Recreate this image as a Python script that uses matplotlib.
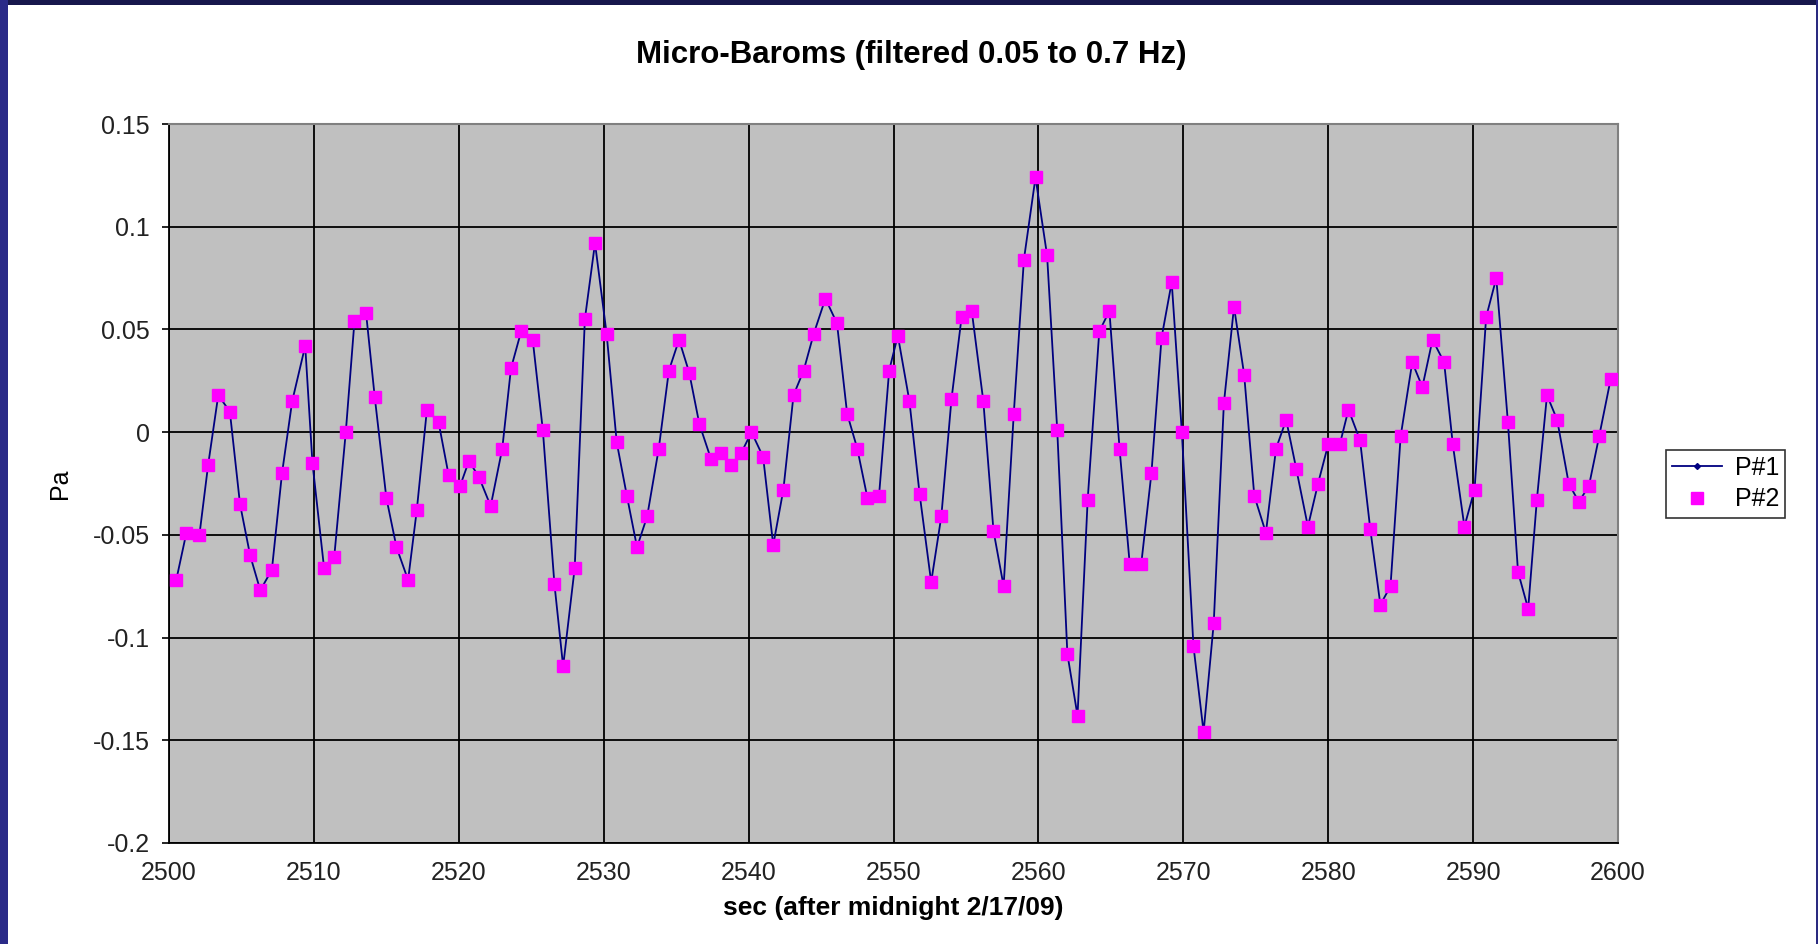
import numpy as np
import matplotlib
matplotlib.use('Agg')
import matplotlib.pyplot as plt
from matplotlib.patches import Rectangle

plt.rcParams['font.family'] = ['Liberation Sans', 'DejaVu Sans']

# --- Data: filtered pressure samples (seconds after midnight, Pa) ---
t = [2500.5, 2501.2, 2502.1, 2502.7, 2503.4, 2504.2, 2504.9, 2505.6, 2506.3, 2507.1,
     2507.8, 2508.5, 2509.4, 2509.9, 2510.7, 2511.4, 2512.2, 2512.8, 2513.6, 2514.2,
     2515.0, 2515.7, 2516.5, 2517.1, 2517.8, 2518.6, 2519.3, 2520.1, 2520.7, 2521.4,
     2522.2, 2523.0, 2523.6, 2524.3, 2525.1, 2525.8, 2526.6, 2527.2, 2528.0, 2528.7,
     2529.4, 2530.2, 2530.9, 2531.6, 2532.3, 2533.0, 2533.8, 2534.5, 2535.2, 2535.9,
     2536.6, 2537.4, 2538.1, 2538.8, 2539.5, 2540.2, 2541.0, 2541.7, 2542.4, 2543.1,
     2543.8, 2544.5, 2545.3, 2546.1, 2546.8, 2547.5, 2548.2, 2549.0, 2549.7, 2550.3,
     2551.1, 2551.8, 2552.6, 2553.3, 2554.0, 2554.7, 2555.4, 2556.2, 2556.9, 2557.6,
     2558.3, 2559.0, 2559.8, 2560.6, 2561.3, 2562.0, 2562.7, 2563.4, 2564.2, 2564.9,
     2565.6, 2566.3, 2567.1, 2567.8, 2568.5, 2569.2, 2569.9, 2570.7, 2571.4, 2572.1,
     2572.8, 2573.5, 2574.2, 2574.9, 2575.7, 2576.4, 2577.1, 2577.8, 2578.6, 2579.3,
     2580.0, 2580.8, 2581.4, 2582.2, 2582.9, 2583.6, 2584.3, 2585.0, 2585.8, 2586.5,
     2587.2, 2588.0, 2588.6, 2589.4, 2590.1, 2590.9, 2591.6, 2592.4, 2593.1, 2593.8,
     2594.4, 2595.1, 2595.8, 2596.6, 2597.3, 2598.0, 2598.7, 2599.5]

pa = [-0.072, -0.049, -0.050, -0.016, 0.018, 0.010, -0.035, -0.060, -0.077, -0.067,
      -0.020, 0.015, 0.042, -0.015, -0.066, -0.061, 0.000, 0.054, 0.058, 0.017,
      -0.032, -0.056, -0.072, -0.038, 0.011, 0.005, -0.021, -0.026, -0.014, -0.022,
      -0.036, -0.008, 0.031, 0.049, 0.045, 0.001, -0.074, -0.114, -0.066, 0.055,
      0.092, 0.048, -0.005, -0.031, -0.056, -0.041, -0.008, 0.030, 0.045, 0.029,
      0.004, -0.013, -0.010, -0.016, -0.010, 0.000, -0.012, -0.055, -0.028, 0.018,
      0.030, 0.048, 0.065, 0.053, 0.009, -0.008, -0.032, -0.031, 0.030, 0.047,
      0.015, -0.030, -0.073, -0.041, 0.016, 0.056, 0.059, 0.015, -0.048, -0.075,
      0.009, 0.084, 0.124, 0.086, 0.001, -0.108, -0.138, -0.033, 0.049, 0.059,
      -0.008, -0.064, -0.064, -0.020, 0.046, 0.073, 0.000, -0.104, -0.146, -0.093,
      0.014, 0.061, 0.028, -0.031, -0.049, -0.008, 0.006, -0.018, -0.046, -0.025,
      -0.006, -0.006, 0.011, -0.004, -0.047, -0.084, -0.075, -0.002, 0.034, 0.022,
      0.045, 0.034, -0.006, -0.046, -0.028, 0.056, 0.075, 0.005, -0.068, -0.086,
      -0.033, 0.018, 0.006, -0.025, -0.034, -0.026, -0.002, 0.026]

x_ticks = [2500, 2510, 2520, 2530, 2540, 2550, 2560, 2570, 2580, 2590, 2600]
y_ticks = [0.15, 0.1, 0.05, 0, -0.05, -0.1, -0.15, -0.2]
y_tick_labels = ['0.15', '0.1', '0.05', '0', '-0.05', '-0.1', '-0.15', '-0.2']

# --- Figure: dark slide background with a white chart panel ---
W, H = 1818, 944
fig = plt.figure(figsize=(W / 100, H / 100), dpi=100)
fig.patch.set_facecolor('#17174c')
# brighter blue edges on the left and right
fig.add_artist(Rectangle((0, 0), 8 / W, 1, transform=fig.transFigure,
                         facecolor='#2a2a88', edgecolor='none', zorder=-11))
fig.add_artist(Rectangle((1816 / W, 0), 2 / W, 1, transform=fig.transFigure,
                         facecolor='#2a2a80', edgecolor='none', zorder=-11))
fig.add_artist(Rectangle((8 / W, 0), (1816 - 8) / W, (H - 5) / H,
                         transform=fig.transFigure, facecolor='white',
                         edgecolor='none', zorder=-10))

ax = fig.add_axes([169 / W, 1 - 843 / H, (1618 - 169) / W, (843 - 124) / H])
ax.set_facecolor('#c0c0c0')

# P#1 line with small diamonds, P#2 squares on top
ax.plot(t, pa, color='#000080', lw=1.3, marker='D', markersize=3,
        label='P#1', zorder=3)
ax.plot(t, pa, color='#ff00ff', lw=0, marker='s', markersize=8.5,
        label='P#2', zorder=4)

ax.set_xlim(2500, 2600)
ax.set_ylim(-0.2, 0.15)
ax.set_xticks(x_ticks)
ax.set_yticks(y_ticks)
ax.set_yticklabels(y_tick_labels)
ax.grid(True, color='black', lw=1.3)
ax.set_axisbelow(True)

for side in ['top', 'right']:
    ax.spines[side].set_color('#808080')
    ax.spines[side].set_linewidth(1.5)
for side in ['left', 'bottom']:
    ax.spines[side].set_color('black')
    ax.spines[side].set_linewidth(1.3)

ax.tick_params(axis='y', direction='out', length=5, width=1.2, pad=9,
               labelsize=18, colors='black')
ax.tick_params(axis='x', length=0, pad=13, labelsize=18)
for lab in ax.get_xticklabels() + ax.get_yticklabels():
    lab.set_color('#222222')

ax.set_title('Micro-Baroms (filtered 0.05 to 0.7 Hz)', fontsize=22.5,
             fontweight='bold', pad=44, x=0.512)
ax.set_xlabel('sec (after midnight 2/17/09)', fontsize=19, fontweight='bold',
              labelpad=8)
ax.set_ylabel('Pa', fontsize=18)
ax.yaxis.set_label_coords(-0.067, 0.5)

leg = ax.legend(loc='center left', bbox_to_anchor=(1.033, 0.5), fontsize=18,
                frameon=True, fancybox=False, handlelength=2.0,
                borderpad=0.25, labelspacing=0.3, handletextpad=0.5,
                borderaxespad=0)
leg.get_frame().set_edgecolor('black')
leg.get_frame().set_linewidth(1.2)

fig.savefig('out.png', dpi=100, facecolor=fig.get_facecolor())
